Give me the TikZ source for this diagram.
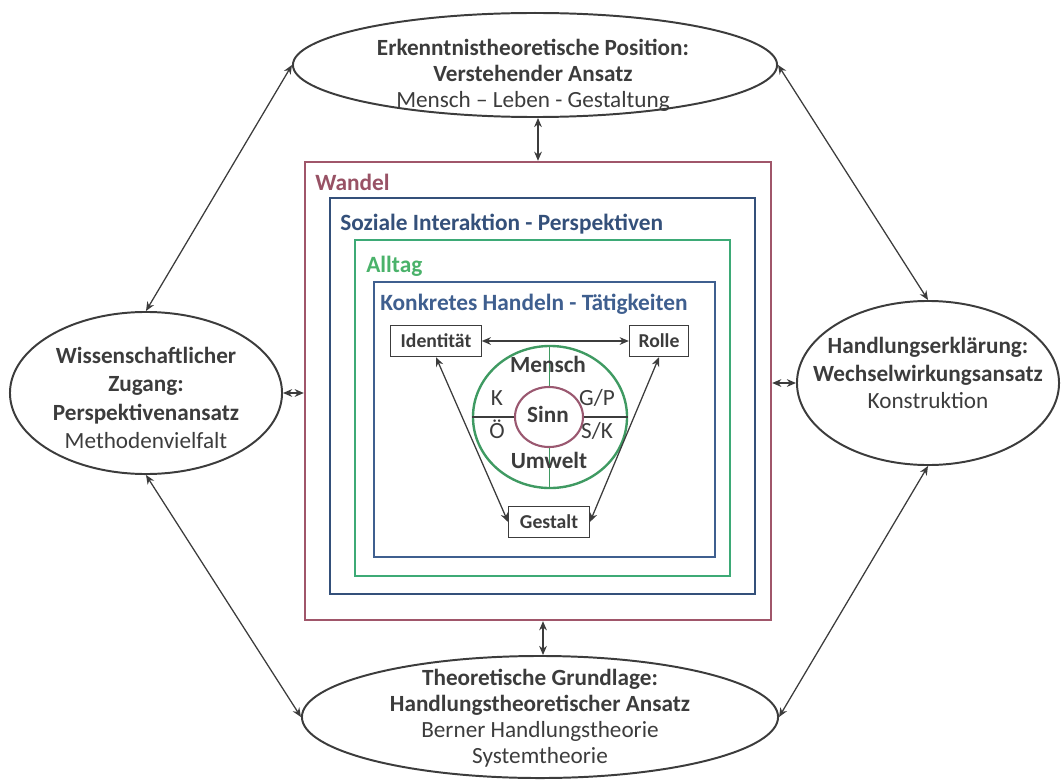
\documentclass[tikz,border=0pt]{standalone}
\usepackage{fontspec}
\setmainfont{Carlito}
\usetikzlibrary{arrows.meta,positioning,shapes.geometric,fit}

\definecolor{wandelrot}{HTML}{A0566A}
\definecolor{sozialblau}{HTML}{34507A}
\definecolor{alltaggruen}{HTML}{3DAA76}
\definecolor{handelnblau}{HTML}{3F5F8F}
\definecolor{kreisgruen}{HTML}{3F9A62}
\definecolor{sinnrot}{HTML}{9A5870}
\definecolor{tinte}{HTML}{3C3C3C}

\tikzset{
    ansatz/.style={draw=tinte, line width=1.4pt, ellipse, inner sep=0pt},
    txt/.style={text=tinte, align=center, inner sep=0pt,
        font=\fontsize{16.5}{18.5}\selectfont},
    rahmen/.style={draw=#1, line width=1.7pt, inner sep=0pt},
    titel/.style={anchor=base west, inner sep=0pt,
        font=\fontsize{16.6}{19}\selectfont\bfseries},
    kasten/.style={draw=tinte, line width=0.9pt, fill=white, text=tinte,
        font=\fontsize{14}{16}\selectfont\bfseries, minimum height=0.78cm,
        inner xsep=7pt},
    klein/.style={text=tinte, inner sep=0pt, font=\fontsize{16.5}{19}\selectfont},
    pfeil/.style={draw=tinte, line width=0.9pt,
        {Stealth[length=6.5pt,width=5.5pt]}-{Stealth[length=6.5pt,width=5.5pt]}},
}

\begin{document}
\begin{tikzpicture}[x=0.025cm, y=-0.025cm]
    \useasboundingbox (0,0) rectangle (1062,781);

    % die vier Positionen
    \node[ansatz, minimum width=12.1cm, minimum height=2.6cm] (erkenntnis) at (535,65) {};
    \node[ansatz, minimum width=6.8cm, minimum height=4.05cm] (zugang) at (146,393) {};
    \node[ansatz, minimum width=6.55cm, minimum height=4.1cm] (erklaerung) at (928,383) {};
    \node[ansatz, minimum width=11.9cm, minimum height=3.05cm] (grundlage) at (540,717) {};

    \node[txt] (erkenntnis-t) at (533,75) {\textbf{Erkenntnistheoretische Position:}\\
        \textbf{Verstehender Ansatz}\\ Mensch -- Leben - Gestaltung};
    \node[txt, font=\fontsize{16.5}{20}\selectfont] (zugang-t) at (146,398)
        {\textbf{Wissenschaftlicher}\\ \textbf{Zugang:}\\
        \textbf{Perspektivenansatz}\\ Methodenvielfalt};
    \node[txt, font=\fontsize{16.5}{19.5}\selectfont] (erklaerung-t) at (928,373)
        {\textbf{Handlungserklärung:}\\ \textbf{Wechselwirkungsansatz}\\ Konstruktion};
    \node[txt] (grundlage-t) at (540,718) {\textbf{Theoretische Grundlage:}\\
        \textbf{Handlungstheoretischer Ansatz}\\ Berner Handlungstheorie\\ Systemtheorie};

    % verschachtelte Rahmen
    \node[rahmen=wandelrot, fit={(305,162) (771,620)}] (wandel) {};
    \node[rahmen=sozialblau, fit={(330,198) (755,594)}] (sozial) {};
    \node[rahmen=alltaggruen, fit={(355,240) (730,576)}] (alltag) {};
    \node[rahmen=handelnblau, fit={(374,282) (715,557)}] (handeln) {};

    \node[titel, text=wandelrot!95!black] (wandel-t) at (315,190) {Wandel};
    \node[titel, text=sozialblau] (sozial-t) at (340,230) {Soziale Interaktion - Perspektiven};
    \node[titel, text=alltaggruen!90!lime] (alltag-t) at (366,272) {Alltag};
    \node[titel, text=handelnblau] (handeln-t) at (380,310) {Konkretes Handeln - Tätigkeiten};

    % Kreis mit Sinn
    \node[draw=kreisgruen, line width=1.7pt, ellipse, minimum width=3.85cm,
        minimum height=3.55cm, inner sep=0pt] (kreis) at (550,417) {};
    \node[draw=sinnrot, line width=1.5pt, ellipse, minimum width=1.7cm,
        minimum height=1.5cm, inner sep=0pt] (sinn) at (549,417) {};
    \draw[tinte, line width=0.8pt] (kreis.west) -- (sinn.west);
    \draw[tinte, line width=0.8pt] (sinn.east) -- (kreis.east);
    \draw[kreisgruen, line width=0.6pt] (kreis.north -| sinn.north) -- (sinn.north);
    \draw[kreisgruen, line width=0.6pt] (sinn.south) -- (kreis.south -| sinn.south);

    \node[klein, font=\fontsize{16.5}{19}\selectfont\bfseries, anchor=base] (sinn-t) at (548,422) {Sinn};
    \node[klein, font=\fontsize{16.5}{19}\selectfont\bfseries, anchor=base] (mensch) at (548,372) {Mensch};
    \node[klein, font=\fontsize{16.5}{19}\selectfont\bfseries, anchor=base] (umwelt) at (549,468) {Umwelt};
    \node[klein, anchor=base] (k) at (497,405) {K};
    \node[klein, anchor=base] (oe) at (497,438) {Ö};
    \node[klein, anchor=base] (gp) at (597,405) {G/P};
    \node[klein, anchor=base] (sk) at (597,438) {S/K};

    % Identität, Rolle, Gestalt
    \node[kasten] (identitaet) at (436,341) {Identität};
    \node[kasten, inner xsep=6.5pt] (rolle) at (659,341) {Rolle};
    \node[kasten, inner xsep=8pt] (gestalt) at (549,522) {Gestalt};

    \draw[pfeil] (identitaet) -- (rolle);
    \draw[pfeil] (identitaet.south) -- (gestalt.west);
    \draw[pfeil] (rolle.south) -- (gestalt.east);

    % Verbindungen
    \draw[pfeil] (erkenntnis.south -| wandel.north) -- (wandel.north);
    \draw[pfeil] (wandel.south) ++(5,0) coordinate (ws) -- (ws |- grundlage.north);
    \draw[pfeil] (zugang.east) -- (zugang.east -| wandel.west);
    \draw[pfeil] (wandel.east |- erklaerung.west) -- (erklaerung.west);
    \draw[pfeil] (erkenntnis.west) -- (zugang.north);
    \draw[pfeil] (erkenntnis.east) -- (erklaerung.north);
    \draw[pfeil] (zugang.south) -- (grundlage.west);
    \draw[pfeil] (erklaerung.south) -- (grundlage.east);
\end{tikzpicture}
\end{document}
